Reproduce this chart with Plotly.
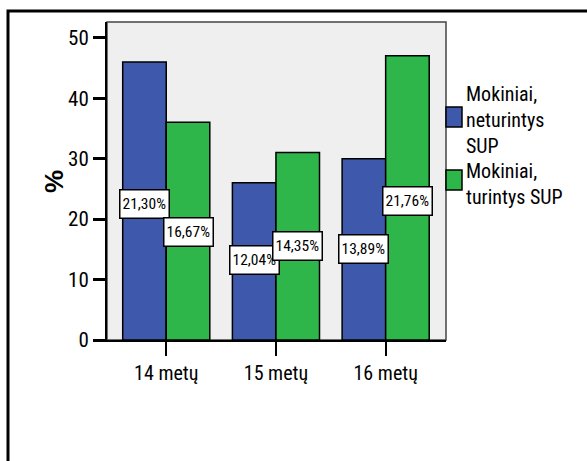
import plotly.graph_objects as go

# Age groups and pupil counts per group
categories = ["14 metų", "15 metų", "16 metų"]
series_names = ["Mokiniai,<br>neturintys<br>SUP", "Mokiniai,<br>turintys SUP"]
counts_without_sen = [46, 26, 30]
counts_with_sen = [36, 31, 47]
y_ticks = [0, 10, 20, 30, 40, 50]
y_title = "%"

colors = ["#3e58ac", "#2fb64a"]
FONT = "Roboto Condensed, Liberation Sans Narrow, Arial Narrow, sans-serif"

series = [counts_without_sen, counts_with_sen]
total = sum(counts_without_sen) + sum(counts_with_sen)

fig = go.Figure()
for name, vals, col in zip(series_names, series, colors):
    fig.add_trace(go.Bar(
        x=categories, y=vals, name=name,
        marker=dict(color=col, line=dict(color="black", width=1.5)),
        showlegend=False,
    ))

# Percentage-of-total boxes placed at each bar centre
bar_offsets = [-0.2, 0.2]
annotations = []
for s, vals in enumerate(series):
    for i, v in enumerate(vals):
        pct = v / total * 100
        label = f"{pct:.2f}".replace(".", ",") + "%"
        annotations.append(dict(
            x=i + bar_offsets[s], y=pct, xref="x", yref="y",
            text=label, showarrow=False, yshift=7, height=23,
            font=dict(family=FONT, size=15.5, color="black"),
            bgcolor="white", bordercolor="black", borderwidth=1.5, borderpad=2,
        ))

# Legend drawn beside the plot area
legend_y_px = [(117, 120), (180, 184)]
plot_top, plot_h, plot_left, plot_w = 22, 318, 107, 339
shapes = []
for (sq_y, txt_y), name, col in zip(legend_y_px, series_names, colors):
    y0 = 1 - (sq_y + 10 - plot_top) / plot_h
    y1 = 1 - (sq_y - 10 - plot_top) / plot_h
    shapes.append(dict(type="rect", xref="paper", yref="paper",
                       x0=1.0, x1=1 + 16 / plot_w, y0=y0, y1=y1,
                       fillcolor=col, line=dict(color="black", width=1.5)))
    annotations.append(dict(
        xref="paper", yref="paper", x=1 + 18 / plot_w,
        y=1 - (txt_y - plot_top) / plot_h, xanchor="left", yanchor="middle",
        text=name, showarrow=False, align="left",
        font=dict(family=FONT, size=20, color="black"),
    ))

# Rotated y-axis title
annotations.append(dict(
    xref="paper", yref="paper", x=(54 - plot_left) / plot_w, y=1 - (181 - plot_top) / plot_h,
    xanchor="center", yanchor="middle", textangle=-90, showarrow=False,
    text=f"<b>{y_title}</b>", font=dict(family="Liberation Sans, Arial", size=26, color="black"),
))

# Plot frame (grey top/right) and outer page frame
shapes.append(dict(type="rect", xref="paper", yref="paper", x0=0, x1=1, y0=0, y1=1,
                   line=dict(color="#444444", width=1.5), layer="below"))
shapes.append(dict(type="rect", xref="paper", yref="paper",
                   x0=(8 - plot_left) / plot_w, x1=2.0,
                   y0=-2.0, y1=1 + (plot_top - 11) / plot_h,
                   line=dict(color="black", width=3)))

fig.update_layout(
    width=587, height=461,
    margin=dict(l=plot_left, r=587 - plot_left - plot_w, t=plot_top, b=461 - plot_top - plot_h),
    paper_bgcolor="white", plot_bgcolor="#efefef",
    barmode="group", bargap=0.206, bargroupgap=0,
    font=dict(family=FONT, color="black"),
    annotations=annotations, shapes=shapes,
    xaxis=dict(
        type="category", range=[-0.54, 2.55],
        showline=True, linecolor="black", linewidth=2,
        ticks="outside", ticklen=14, tickwidth=2, tickcolor="black",
        tickfont=dict(family=FONT, size=20), showgrid=False,
    ),
    yaxis=dict(
        range=[0, 52.6], tickvals=y_ticks,
        showline=True, linecolor="black", linewidth=2,
        ticks="outside", ticklen=12, tickwidth=3, tickcolor="black",
        tickfont=dict(family=FONT, size=21), showgrid=False, zeroline=False,
    ),
)

fig.write_html("out.html")
